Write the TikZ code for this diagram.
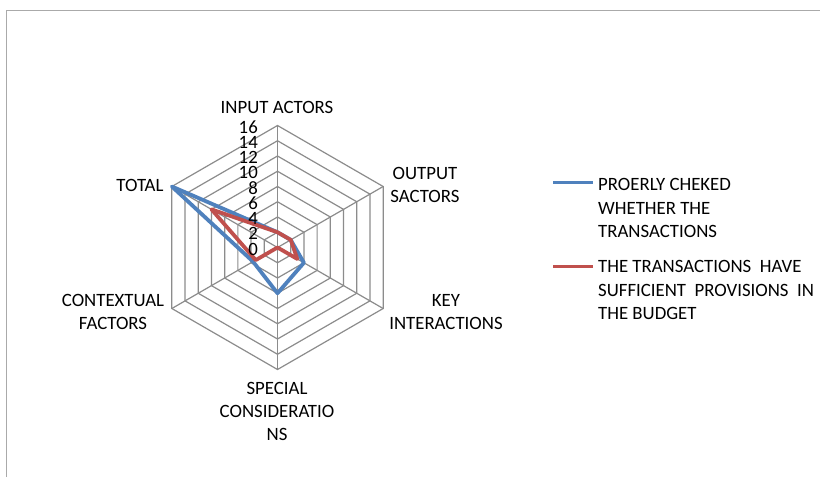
\documentclass[tikz,border=0pt]{standalone}
\usepackage{fontspec}
\setmainfont{Carlito}
\definecolor{serblue}{RGB}{79,129,189}
\definecolor{serred}{RGB}{192,80,77}
\definecolor{gridgray}{RGB}{140,140,140}
\definecolor{framegray}{RGB}{170,170,170}
\begin{document}
\begin{tikzpicture}[x=1pt,y=1pt,
  lbl/.style={font=\fontsize{18.8}{23}\selectfont, align=center, inner sep=0pt, text=black},
  leg/.style={font=\fontsize{18.8}{23.2}\selectfont, align=left, inner sep=0pt, anchor=west, text=black},
  gridline/.style={draw=gridgray, line width=1.2pt},
  series/.style={line width=3.8pt, line join=round, line cap=round}]
\useasboundingbox (0,0) rectangle (820,-477);
\fill[white] (0,0) rectangle (820,-477);
\draw[framegray, line width=1.5pt] (6.5,-477) -- (6.5,-10.7) -- (820,-10.7);
% radar chart
\begin{scope}[shift={(277.5,-247.5)}]
  \def\u{7.625}
  \foreach \r in {1,...,8}{
    \draw[gridline] (90:\r*15.25) -- (30:\r*15.25) -- (-30:\r*15.25) -- (-90:\r*15.25) -- (-150:\r*15.25) -- (150:\r*15.25) -- cycle;
  }
  \foreach \a in {90,30,-30,-90,-150,150}{
    \draw[gridline] (0,0) -- (\a:122);
  }
  \draw[series, serblue] (90:2*\u) -- (30:2*\u) -- (-30:4*\u) -- (-90:6*\u) -- (-150:3.7*\u) -- (150:16*\u) -- cycle;
  \draw[series, serred] (90:2*\u) -- (30:2*\u) -- (-30:3*\u) -- (0,0) -- (-150:3.3*\u) -- (150:10*\u) -- cycle;
  \foreach \v in {0,2,...,16}{
    \node[lbl, anchor=east] (t\v) at (-19.5, \v*\u-1.5) {\v};
  }
\end{scope}
\node[lbl] (inp) at (277,-107.5) {INPUT ACTORS};
\node[lbl] (outp) at (425,-184.5) {OUTPUT\\SACTORS};
\node[lbl] (key) at (446,-312) {KEY\\INTERACTIONS};
\node[lbl] (spec) at (277,-411.5) {SPECIAL\\CONSIDERATIO\\NS};
\node[lbl] (ctx) at (113,-312) {CONTEXTUAL\\FACTORS};
\node[lbl] (tot) at (140,-185) {TOTAL};
% legend
\draw[serblue, line width=3pt] (553,-182.5) -- (592.5,-182.5);
\node[leg] (lb) at (598,-208) {PROERLY CHEKED\\WHETHER THE\\TRANSACTIONS};
\draw[serred, line width=3pt] (553,-266) -- (592.5,-266);
\node[leg] (lr) at (598,-290) {THE TRANSACTIONS\ \ HAVE\\SUFFICIENT\ \ PROVISIONS\ \ IN\\THE BUDGET};
\end{tikzpicture}
\end{document}
